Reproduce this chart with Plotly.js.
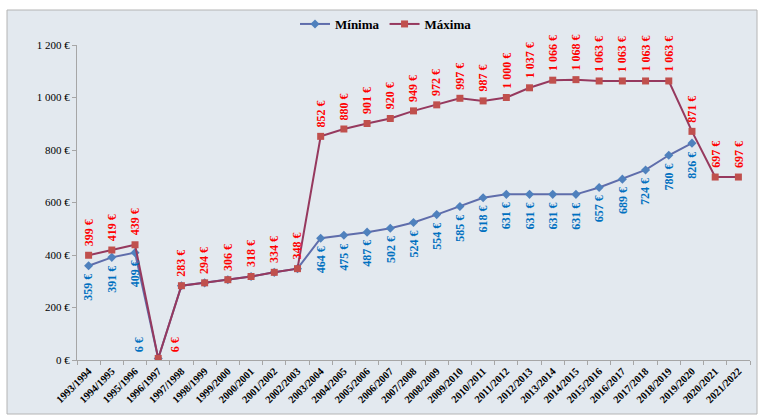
<!DOCTYPE html>
<html>
<head>
<meta charset="utf-8">
<script src="https://cdn.plot.ly/plotly-3.0.1.min.js"></script>
<style>html,body{margin:0;padding:0;background:#fff;}#chart{width:758px;height:415px;}</style>
</head>
<body>
<div id="chart"></div>
<script>
const categories = ["1993/1994","1994/1995","1995/1996","1996/1997","1997/1998","1998/1999","1999/2000","2000/2001","2001/2002","2002/2003","2003/2004","2004/2005","2005/2006","2006/2007","2007/2008","2008/2009","2009/2010","2010/2011","2011/2012","2012/2013","2013/2014","2014/2015","2015/2016","2016/2017","2017/2018","2018/2019","2019/2020","2020/2021","2021/2022"];
const minima = [359,391,409,6,283,294,306,318,334,348,464,475,487,502,524,554,585,618,631,631,631,631,657,689,724,780,826,null,null];
const maxima = [399,419,439,6,283,294,306,318,334,348,852,880,901,920,949,972,997,987,1000,1037,1066,1068,1063,1063,1063,1063,871,697,697];
const yTicks = [0,200,400,600,800,1000,1200];

function fmt(v){
  return String(v).replace(/\B(?=(\d{3})+(?!\d))/g, "\u00a0") + "\u00a0€";
}

const serif = "'Liberation Serif', 'Times New Roman', Times, serif";
const annotations = [];
categories.forEach((c,i)=>{
  const mx = maxima[i], mn = minima[i];
  if (mx !== null) {
    const small = mx < 50;
    annotations.push({
      x: c, y: mx, xref:'x', yref:'y', text: fmt(mx), showarrow:false, textangle:-90,
      xanchor: small ? 'left' : 'center', yanchor:'bottom',
      xshift: small ? 8 : 0, yshift: small ? 4 : 7,
      font:{family:serif, size:12, color:'#FF0000', weight:'bold'}
    });
  }
  if (mn !== null && (mn !== mx || mn < 50)) {
    const small = mn < 50;
    annotations.push({
      x: c, y: mn, xref:'x', yref:'y', text: fmt(mn), showarrow:false, textangle:-90,
      xanchor: small ? 'right' : 'center', yanchor: small ? 'bottom' : 'top',
      xshift: small ? -10 : 0, yshift: small ? 4 : -6,
      font:{family:serif, size:12, color:'#0070C0', weight:'bold'}
    });
  }
});

const data = [
  {x:categories, y:minima, name:'Mínima', type:'scatter', mode:'lines+markers',
   line:{color:'#5F6DAB', width:2}, marker:{symbol:'diamond', size:7, color:'#4F81BD'}, connectgaps:false},
  {x:categories, y:maxima, name:'Máxima', type:'scatter', mode:'lines+markers',
   line:{color:'#96395E', width:2}, marker:{symbol:'square', size:7, color:'#C0504D'}}
];

const L=77, R=8, T=45, B=55, W=758, H=415;
const pw = W-L-R, ph = H-T-B;
const px = v => (v-L)/pw;
const py = v => (H-B-v)/ph;

const layout = {
  width:W, height:H,
  margin:{l:L, r:R, t:T, b:B, pad:0},
  paper_bgcolor:'#FFFFFF', plot_bgcolor:'rgba(0,0,0,0)',
  showlegend:true,
  legend:{orientation:'h', x:px(295), xanchor:'left', y:py(24), yanchor:'middle',
    font:{family:serif, size:13, color:'#000', weight:'bold'}, bgcolor:'rgba(0,0,0,0)', itemwidth:30},
  xaxis:{type:'category', tickson:'boundaries', ticks:'outside', ticklen:4, tickcolor:'#A6A6A6',
    showline:true, linecolor:'#A6A6A6', linewidth:1, showgrid:false, zeroline:false,
    tickangle:-45, tickfont:{family:serif, size:10.5, color:'#000', weight:'bold'},
    range:[-0.5, categories.length-0.5], fixedrange:true},
  yaxis:{range:[0,1200], tickvals:yTicks, ticktext:yTicks.map(fmt), ticks:'outside', ticklen:4,
    tickcolor:'#A6A6A6', showline:true, linecolor:'#A6A6A6', linewidth:1, showgrid:false, zeroline:false,
    tickfont:{family:serif, size:11, color:'#000'}, fixedrange:true},
  shapes:[{type:'rect', xref:'paper', yref:'paper', x0:px(7), x1:px(757), y0:py(414), y1:py(10),
    fillcolor:'#E3E9EF', line:{color:'#B4B4B4', width:1}, layer:'below'}],
  annotations: annotations
};

Plotly.newPlot('chart', data, layout, {displayModeBar:false, staticPlot:true});
</script>
</body>
</html>
